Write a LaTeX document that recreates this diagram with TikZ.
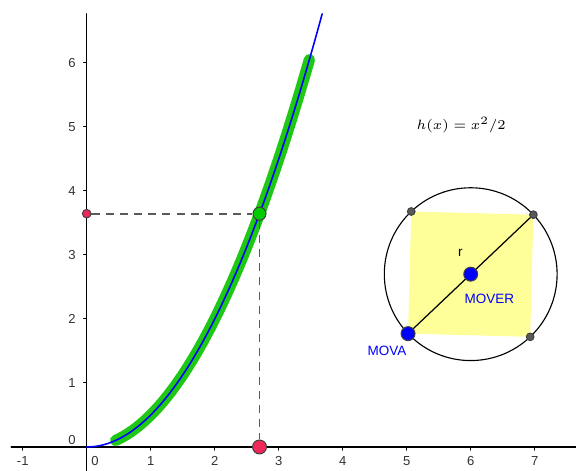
\documentclass[tikz,border=0pt]{standalone}
\usepackage{fontspec}
\setsansfont{Liberation Sans}
\usetikzlibrary{calc}
\definecolor{curveblue}{RGB}{0,0,255}
\definecolor{tracegreen}{RGB}{30,200,20}
\definecolor{ptgreen}{RGB}{0,204,0}
\definecolor{ptred}{RGB}{240,40,90}
\definecolor{sqyellow}{RGB}{255,255,153}
\definecolor{dashgray}{RGB}{90,90,90}
\definecolor{labelgray}{RGB}{50,50,50}
\tikzset{
	dot/.style={circle, draw=black!75, line width=0.45pt, inner sep=0pt},
	ticklabel/.style={text=labelgray, font=\sffamily\fontsize{5.8}{7}\selectfont, inner sep=0pt},
	guide/.style={dashgray, line width=0.85pt, line cap=butt, dash pattern=on 3.6pt off 2.7pt}
}
\begin{document}
\begin{tikzpicture}[line join=round, line cap=round, font=\sffamily\fontsize{6}{7}\selectfont]
	\useasboundingbox (-1.355,-0.375) rectangle (7.645,6.984);
	% axes
	\draw [line width=0.6pt] (-1.18,0)--(7.645,0);
	\draw [line width=0.6pt] (0,-0.375)--(0,6.77);
	\foreach \i in {-1,1,2,...,7} {
		\draw [line width=0.45pt] (\i,0)--(\i,-0.05);
		\node[ticklabel] at (\i,-0.22){\i};
	}
	\foreach \i in {1,...,6} {
		\draw [line width=0.45pt] (0,\i)--(-0.05,\i);
		\node[ticklabel] at (-0.23,\i){\i};
	}
	\node[ticklabel] at (0.13,-0.22){0};
	\node[ticklabel] at (-0.23,0.11){0};
	% trace and graph
	\draw [tracegreen, line width=5pt, smooth, domain=0.45:3.48, samples=80] plot (\x, {0.5*(\x)^2});
	\draw [curveblue, line width=0.7pt, smooth, domain=0:3.68, samples=120] plot (\x, {0.5*(\x)^2});
	\node at (5.85,5.03){$\fontsize{8.2}{9}\selectfont h(x)=x^2/2$};
	% point on the graph and its projections
	\node[dot, fill=ptgreen, minimum size=5.8pt] (P) at (2.7,3.645){};
	\node[dot, fill=ptred, minimum size=3.8pt] (Py) at (0,3.645){};
	\node[dot, fill=ptred, minimum size=6.2pt] (Px) at (2.7,0){};
	\draw [guide] (Py)--(P);
	\draw [guide] (P)--(Px);
	% circle with square
	\coordinate (O) at (6,2.7);
	\coordinate (Q1) at ($(O)+(43.5:1.35)$);
	\coordinate (Q2) at ($(O)+(133.5:1.35)$);
	\coordinate (Q3) at ($(O)+(223.5:1.35)$);
	\coordinate (Q4) at ($(O)+(313.5:1.35)$);
	\fill [sqyellow] (Q1)--(Q2)--(Q3)--(Q4)--cycle;
	\draw [line width=0.5pt] (O) circle (1.35);
	\draw [line width=0.55pt] (Q3)--(Q1);
	\node[dot, fill=black!65, minimum size=3.4pt] (A) at (Q1){};
	\node[dot, fill=black!65, minimum size=3.4pt] (B) at (Q2){};
	\node[dot, fill=black!65, minimum size=3.4pt] (C) at (Q4){};
	\node[dot, fill=curveblue, minimum size=6.2pt] (mover) at (O){};
	\node[dot, fill=curveblue, minimum size=6.2pt] (mova) at (Q3){};
	\node at (5.84,3.03){r};
	\node[text=curveblue] at (6.29,2.31){MOVER};
	\node[text=curveblue] at (4.69,1.50){MOVA};
\end{tikzpicture}
\end{document}
